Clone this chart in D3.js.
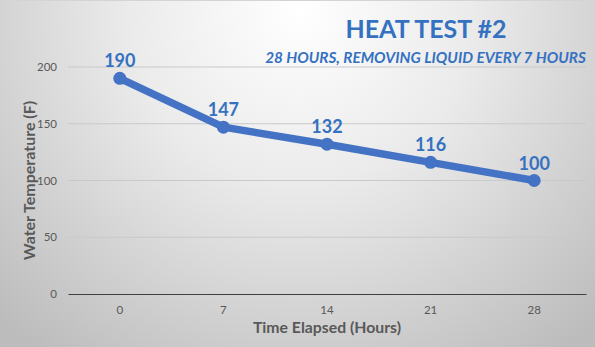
<!DOCTYPE html>
<html>
<head>
<meta charset="utf-8">
<script src="https://cdn.jsdelivr.net/npm/d3@7"></script>
<style>
  html, body { margin: 0; padding: 0; }
  svg { display: block; font-family: Lato, "Noto Sans", sans-serif; }
</style>
</head>
<body>
<svg id="chart" width="595" height="347"></svg>
<script>
// Water temperature readings, taken every 7 hours
const hours = ["0", "7", "14", "21", "28"];
const temps = [190, 147, 132, 116, 100];
const yTicks = [0, 50, 100, 150, 200];

const W = 595, H = 347;
const margin = { top: 67, right: 9, bottom: 53, left: 68 };
const svg = d3.select("#chart");

// Soft radial background
const defs = svg.append("defs");
const grad = defs.append("radialGradient")
  .attr("id", "bg").attr("gradientUnits", "userSpaceOnUse")
  .attr("cx", 300).attr("cy", 10).attr("r", 430);
grad.append("stop").attr("offset", "0%").attr("stop-color", "#ffffff");
grad.append("stop").attr("offset", "40%").attr("stop-color", "#ebebeb");
grad.append("stop").attr("offset", "100%").attr("stop-color", "#bcbcbc");
svg.append("rect").attr("width", W).attr("height", H).attr("fill", "url(#bg)");
svg.append("line").attr("x1", 0).attr("x2", W).attr("y1", 0.5).attr("y2", 0.5)
  .attr("stroke", "#d4d4d4");

const x = d3.scaleBand().domain(hours)
  .range([margin.left, W - margin.right]);
const y = d3.scaleLinear().domain([0, 200])
  .range([H - margin.bottom, margin.top]);

// Gridlines
svg.append("g").selectAll("line").data(yTicks.filter(d => d > 0)).join("line")
  .attr("x1", margin.left).attr("x2", W - margin.right)
  .attr("y1", d => y(d)).attr("y2", d => y(d))
  .attr("stroke", "#c9c9c9").attr("stroke-width", 1);

// Y axis labels
const yAxis = svg.append("g")
  .attr("transform", `translate(${margin.left},0)`)
  .call(d3.axisLeft(y).tickValues(yTicks).tickSize(0).tickPadding(11));
yAxis.select(".domain").remove();
yAxis.selectAll("text").attr("fill", "#595959").attr("font-size", 11.5)
  .attr("font-family", "Lato, sans-serif");

// X axis
const xAxis = svg.append("g")
  .attr("transform", `translate(0,${y(0)})`)
  .call(d3.axisBottom(x).tickSize(0).tickPadding(12));
xAxis.select(".domain").attr("stroke", "#404040").attr("stroke-width", 1.2);
xAxis.selectAll("text").attr("fill", "#595959").attr("font-size", 11.5)
  .attr("font-family", "Lato, sans-serif");

// Line and markers
const cx = (d, i) => x(hours[i]) + x.bandwidth() / 2;
const line = d3.line().x((d, i) => cx(d, i)).y(d => y(d));
svg.append("path").datum(temps)
  .attr("d", line).attr("fill", "none")
  .attr("stroke", "#4472c4").attr("stroke-width", 7.5)
  .attr("stroke-linejoin", "round");
svg.append("g").selectAll("circle").data(temps).join("circle")
  .attr("cx", cx).attr("cy", d => y(d)).attr("r", 6.5)
  .attr("fill", "#4472c4");

// Value labels
svg.append("g").selectAll("text").data(temps).join("text")
  .attr("x", cx).attr("y", d => y(d) - 11)
  .attr("text-anchor", "middle")
  .attr("font-size", 18).attr("font-weight", "bold")
  .attr("fill", "#3571c1")
  .text(d => d);

// Titles
svg.append("text").attr("x", 426).attr("y", 38)
  .attr("text-anchor", "middle").attr("font-size", 25).attr("font-weight", "bold")
  .attr("fill", "#3571c1").text("HEAT TEST #2");
svg.append("text").attr("x", 425.5).attr("y", 63)
  .attr("text-anchor", "middle").attr("font-size", 15.3).attr("font-weight", "bold")
  .attr("font-style", "italic").attr("fill", "#3571c1")
  .text("28 HOURS, REMOVING LIQUID EVERY 7 HOURS");

// Axis titles
svg.append("text")
  .attr("transform", `translate(35,${(margin.top + y(0)) / 2}) rotate(-90)`)
  .attr("text-anchor", "middle").attr("font-size", 16).attr("font-weight", "bold")
  .attr("fill", "#595959").text("Water Temperature (F)");
svg.append("text").attr("x", 327).attr("y", 333)
  .attr("text-anchor", "middle").attr("font-size", 15.8).attr("font-weight", "bold")
  .attr("fill", "#595959").text("Time Elapsed (Hours)");
</script>
</body>
</html>
